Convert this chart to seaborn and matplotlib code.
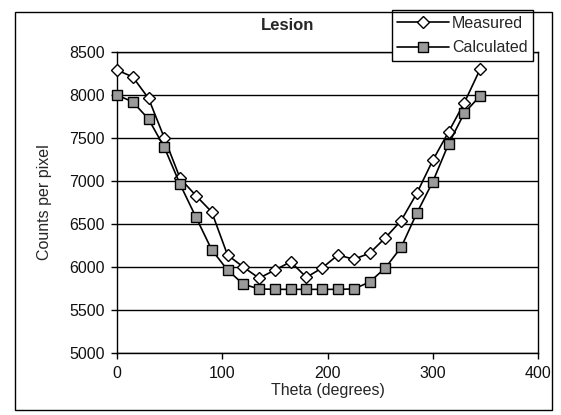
import matplotlib
matplotlib.use("Agg")
import matplotlib.pyplot as plt
import seaborn as sns
import pandas as pd
from matplotlib.patches import Rectangle

theta = [0, 15, 30, 45, 60, 75, 90, 105, 120, 135, 150, 165, 180, 195, 210, 225,
         240, 255, 270, 285, 300, 315, 330, 345]
measured = [8290, 8210, 7960, 7500, 7030, 6830, 6640, 6140, 6000, 5870, 5965, 6060,
            5880, 5990, 6140, 6090, 6160, 6340, 6540, 6860, 7240, 7570, 7910, 8300]
calculated = [8000, 7920, 7720, 7390, 6960, 6580, 6200, 5965, 5800, 5745, 5740, 5740,
              5740, 5740, 5740, 5745, 5825, 5990, 6230, 6630, 6990, 7430, 7790, 7990]
series_names = ["Measured", "Calculated"]
x_ticks = [0, 100, 200, 300, 400]
y_ticks = [5000, 5500, 6000, 6500, 7000, 7500, 8000, 8500]

sns.set_theme(style="white")
plt.rcParams['font.family'] = ['Liberation Sans', 'DejaVu Sans']

df = pd.DataFrame({
    "theta": theta * 2,
    "value": measured + calculated,
    "series": [series_names[0]] * len(theta) + [series_names[1]] * len(theta),
})

fig = plt.figure(figsize=(5.61, 4.15), dpi=100)
ax = fig.add_axes([117/561, 1-353/415, (538-117)/561, (353-52)/415])

for name, mk, fc, ms in [("Measured", "D", "white", 6.5), ("Calculated", "s", "#9a9a9a", 6.5)]:
    sub = df[df["series"] == name]
    sns.lineplot(data=sub, x="theta", y="value", ax=ax, color="black", lw=1.2,
                 marker=mk, markersize=ms,
                 markerfacecolor=fc, markeredgecolor="black", markeredgewidth=1.0,
                 label=name, zorder=3, clip_on=False)

ax.set_xlim(0, 400)
ax.set_ylim(5000, 8500)
ax.set_xticks(x_ticks)
ax.set_yticks(y_ticks)
ax.set_xticklabels([str(v) for v in x_ticks], fontsize=11.5)
ax.set_yticklabels([str(v) for v in y_ticks], fontsize=11.5)
ax.yaxis.grid(True, color="black", lw=1.0)
ax.xaxis.grid(False)
for s in ax.spines.values():
    s.set_color("black")
    s.set_linewidth(1.0)
ax.tick_params(axis="both", direction="out", length=4, width=1, color="black",
               labelcolor="#111111", bottom=True, left=True, pad=5)
ax.set_xlabel("Theta (degrees)", fontsize=11.5, labelpad=2)
ax.set_ylabel("Counts per pixel", fontsize=11.5, labelpad=12)
fig.text(288/561, 1-25/415, "Lesion", ha="center", va="center", fontsize=12,
         fontweight="bold")

leg = ax.legend(loc="upper right", bbox_to_anchor=(533/561, 1-10/415),
                bbox_transform=fig.transFigure, frameon=True, fancybox=False,
                fontsize=11.5, handlelength=3.2, borderpad=0.35, labelspacing=0.6,
                borderaxespad=0, handletextpad=0.2)
leg.get_frame().set_edgecolor("black")
leg.get_frame().set_linewidth(1.0)
leg.get_frame().set_alpha(1)
leg.set_zorder(10)

fig.patches.append(Rectangle((15/561, 1-410/415), (552-15)/561, (410-12)/415,
                             transform=fig.transFigure, fill=False,
                             edgecolor="black", lw=1.0, zorder=0))

fig.savefig("out.png", dpi=100)
